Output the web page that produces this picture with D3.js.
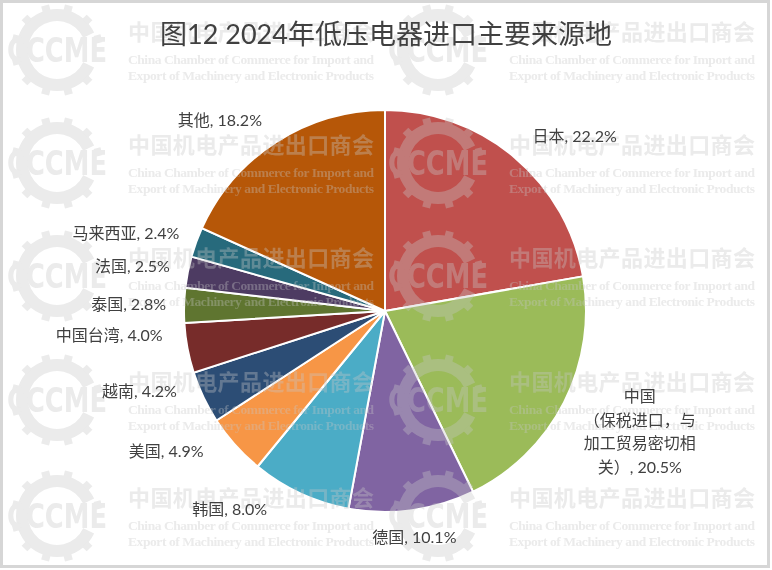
<!DOCTYPE html>
<html>
<head>
<meta charset="utf-8">
<script src="https://cdn.jsdelivr.net/npm/d3@7"></script>
<style>
  html, body { margin: 0; padding: 0; background: #fff; }
  svg { display: block; }
</style>
</head>
<body>
<div id="chart"></div>
<script>
// data, clockwise from 12 o'clock
const regions = ['日本', '中国\n（保税进口，与\n加工贸易密切相\n关）', '德国', '韩国', '美国', '越南', '中国台湾', '泰国', '法国', '马来西亚', '其他']
const shares = [22.2, 20.5, 10.1, 8.0, 4.9, 4.2, 4.0, 2.8, 2.5, 2.4, 18.2]
const colors = ['#C0504D', '#9BBB59', '#8064A2', '#4BACC6', '#F79646', '#2C4D75', '#772C2A', '#5F7530', '#4D3B62', '#276A7C', '#B65708']
const title = '图12 2024年低压电器进口主要来源地'

// label nudges (Excel pushes some labels around to avoid overlap)
const labelNudge = [[21, 1], [9, 2], [-6, 1], [-47, -8], [-27, -11], [-13, -17], [-7, -17], [1, 0], [0, 0], [-2, 1], [-23, 2]]

const width = 772
const height = 570
const cx = 385
const cy = 311
const radius = 201

const svg = d3.select('#chart').append('svg')
  .attr('width', width)
  .attr('height', height)

// frame
svg.append('rect')
  .attr('x', 1.5).attr('y', 1.5)
  .attr('width', 767).attr('height', 565)
  .attr('fill', '#fff')
  .attr('stroke', '#d6d6d6')
  .attr('stroke-width', 3)

const data = regions.map((name, i) => ({ name, value: shares[i], color: colors[i] }))

const pie = d3.pie().value(d => d.value).sort(null)
const arc = d3.arc().innerRadius(0).outerRadius(radius)
const arcs = pie(data)

const g = svg.append('g').attr('transform', `translate(${cx}, ${cy})`)

g.selectAll('path.slice')
  .data(arcs)
  .join('path')
  .attr('class', 'slice')
  .attr('d', arc)
  .attr('fill', d => d.data.color)
  .attr('stroke', '#fff')
  .attr('stroke-width', 2)

// watermark, drawn over the pie like the original image
const wmRows = [32, 145, 258, 382, 498]
const wmCols = [0, 381]
const wm = svg.append('g').attr('fill', '#c6c6c6').attr('opacity', 0.36)
const gearRing = d3.arc()
  .innerRadius(29).outerRadius(41)
  .startAngle(0.64 * Math.PI).endAngle(2.36 * Math.PI)

wmRows.forEach(ry => {
  wmCols.forEach(dx => {
    const lg = wm.append('g').attr('transform', `translate(${57 + dx}, ${ry + 18})`)
    lg.append('path').attr('d', gearRing())
    d3.range(12).forEach(k => {
      const a = k * 30
      if (a > 60 && a < 120) return
      lg.append('rect')
        .attr('x', -4).attr('y', -46)
        .attr('width', 8).attr('height', 7)
        .attr('transform', `rotate(${a + 15})`)
    })
    lg.append('rect')
      .attr('x', -52).attr('y', -14)
      .attr('width', 104).attr('height', 28)
      .attr('fill', '#fff')
      .attr('opacity', 0)
    lg.append('text')
      .attr('x', 0).attr('y', 12)
      .attr('text-anchor', 'middle')
      .attr('font-family', '"DejaVu Sans Condensed", "DejaVu Sans"')
      .attr('font-weight', 'bold')
      .attr('font-size', 33)
      .attr('textLength', 100)
      .attr('lengthAdjust', 'spacingAndGlyphs')
      .text('CCCME')

    wm.append('text')
      .attr('x', 128 + dx).attr('y', ry + 8)
      .attr('font-family', '"Noto Sans CJK SC"')
      .attr('font-weight', 'bold')
      .attr('font-size', 22)
      .attr('textLength', 246)
      .text('中国机电产品进出口商会')
    wm.append('text')
      .attr('x', 128 + dx).attr('y', ry + 32)
      .attr('font-family', '"Liberation Serif"')
      .attr('font-weight', 'bold')
      .attr('font-size', 13.5)
      .attr('textLength', 246)
      .text('China Chamber of Commerce for Import and')
    wm.append('text')
      .attr('x', 128 + dx).attr('y', ry + 48)
      .attr('font-family', '"Liberation Serif"')
      .attr('font-weight', 'bold')
      .attr('font-size', 13.5)
      .attr('textLength', 246)
      .text('Export of Machinery and Electronic Products')
  })
})

// title
svg.append('text')
  .attr('x', 386).attr('y', 44)
  .attr('text-anchor', 'middle')
  .attr('font-family', 'Lato, "Noto Sans CJK SC"')
  .attr('font-size', 27)
  .attr('fill', '#404040')
  .text(title)

// data labels, outside end
const labelArc = d3.arc().innerRadius(radius + 19).outerRadius(radius + 19)
const lineH = 23.5
const fontSize = 16

arcs.forEach((d, i) => {
  const lines = (d.data.name + ', ' + d3.format('.1f')(d.data.value) + '%').split('\n')
  const t = svg.append('text')
    .attr('font-family', 'Lato, "Noto Sans CJK SC"')
    .attr('font-size', fontSize)
    .attr('fill', '#404040')
    .attr('text-anchor', 'middle')
  lines.forEach((ln, k) => {
    t.append('tspan').attr('x', 0).attr('dy', k === 0 ? 0 : lineH).text(ln)
  })
  const w = t.node().getBBox().width
  const h = (lines.length - 1) * lineH + fontSize
  const mid = (d.startAngle + d.endAngle) / 2
  const [ax, ay] = labelArc.centroid(d)
  const bx = cx + ax + Math.sin(mid) * w / 2 + labelNudge[i][0]
  const by = cy + ay - Math.cos(mid) * h / 2 + labelNudge[i][1]
  const top = by - h / 2 + fontSize * 0.5 + 5
  t.attr('transform', `translate(${bx}, ${top})`)
})
</script>
</body>
</html>
